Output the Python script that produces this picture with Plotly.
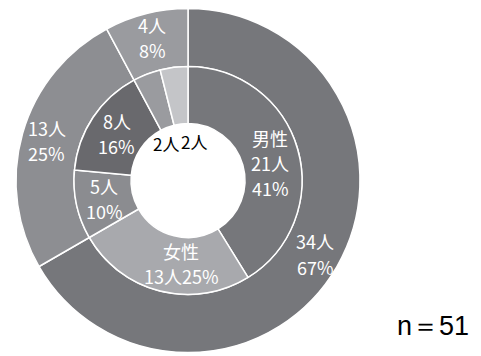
import math
import plotly.graph_objects as go

# Outer ring: three groups; inner ring: breakdown of each group
outer_values = [34, 13, 4]
outer_colors = ["#76777b", "#8d8e92", "#9a9b9f"]

inner_names = ["男性", "女性", "", "", "", ""]
inner_values = [21, 13, 5, 8, 2, 2]
inner_colors = ["#76777b", "#a8a9ad", "#8b8c90", "#69696d", "#9a9b9f", "#c4c5c8"]
# slices too thin for an inside label get a black label in the hole
inner_text_inside = [True, True, True, True, False, False]

sample_label = "n＝51"

W, H = 481, 356
CX, CY = 188, 180.5          # pie centre in pixels (from top-left)
R_OUT, R_MID, R_IN = 172, 114, 57
LINE_GAP = 25                # pixels between label lines

total = sum(outer_values)
FONT = "Noto Sans CJK JP, Noto Sans, sans-serif"
FS = 18


def pct(v):
    return f"{round(v / total * 100)}%"


def domain(r):
    return dict(
        x=[(CX - r) / W, (CX + r) / W],
        y=[(H - CY - r) / H, (H - CY + r) / H],
    )


def mid_angles(values):
    out, cum = [], 0
    for v in values:
        out.append((cum + v / 2) / sum(values) * 2 * math.pi)
        cum += v
    return out


fig = go.Figure()

for values, colors, r0, r1 in [
    (outer_values, outer_colors, R_MID, R_OUT),
    (inner_values, inner_colors, R_IN, R_MID),
]:
    fig.add_trace(go.Pie(
        values=values,
        textinfo="none",
        sort=False,
        direction="clockwise",
        rotation=0,
        hole=r0 / r1,
        domain=domain(r1),
        marker=dict(colors=colors, line=dict(color="white", width=1.5)),
        showlegend=False,
        hoverinfo="value+percent",
    ))

annotations = []


def label(lines, angle, r, color="white", dx=0.0, dy=0.0, size=FS):
    """Stack the lines of a slice label around its mid-angle point."""
    px = CX + r * math.sin(angle) + dx
    py = CY - r * math.cos(angle) + dy
    n = len(lines)
    for i, line in enumerate(lines):
        ly = py + (i - (n - 1) / 2) * LINE_GAP
        annotations.append(dict(
            x=px / W, y=(H - ly) / H, xref="paper", yref="paper",
            text=line, showarrow=False, xanchor="center", yanchor="middle",
            font=dict(family=FONT, size=size, color=color),
        ))


for v, a in zip(outer_values, mid_angles(outer_values)):
    label([f"{v}人", pct(v)], a, (R_MID + R_OUT) / 2 + 4)

hole_offsets = iter([-9, 10])
for name, v, show, a in zip(inner_names, inner_values, inner_text_inside,
                            mid_angles(inner_values)):
    r = (R_IN + R_MID) / 2
    if not show:
        label([f"{v}人"], a, 36, color="black", dx=next(hole_offsets), dy=-3, size=17)
    elif name == "女性":
        label([name, f"{v}人{pct(v)}"], a, r, dx=14)
    elif name:
        label([name, f"{v}人", pct(v)], a, r, dy=6)
    else:
        label([f"{v}人", pct(v)], a, r)

annotations.append(dict(
    x=471 / W, y=(H - 326) / H, xref="paper", yref="paper",
    xanchor="right", yanchor="middle", text=sample_label, showarrow=False,
    font=dict(family="Liberation Sans, Arial, sans-serif", size=27, color="black"),
))

fig.update_layout(
    width=W, height=H,
    margin=dict(l=0, r=0, t=0, b=0),
    paper_bgcolor="white",
    plot_bgcolor="white",
    annotations=annotations,
)

fig.write_html("out.html")
